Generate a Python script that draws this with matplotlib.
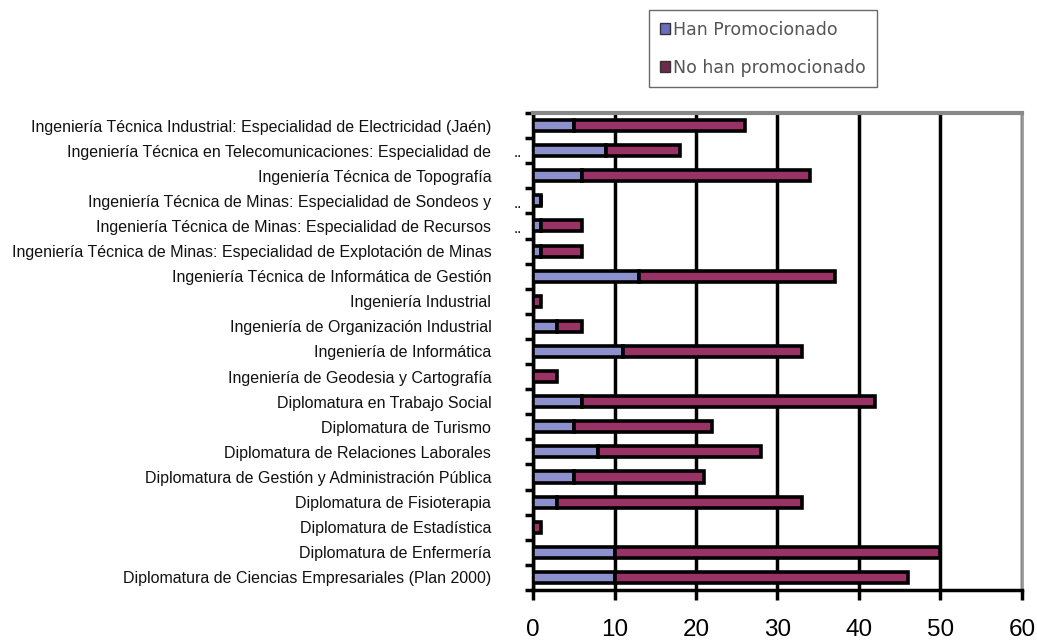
import matplotlib
matplotlib.use("Agg")
import matplotlib.pyplot as plt
from matplotlib.patches import Patch

plt.rcParams["font.family"] = ["Liberation Sans", "DejaVu Sans"]

# categories listed top to bottom as in the chart
carreras = [
    "Ingeniería Técnica Industrial: Especialidad de Electricidad (Jaén)",
    "Ingeniería Técnica en Telecomunicaciones: Especialidad de",
    "Ingeniería Técnica de Topografía",
    "Ingeniería Técnica de Minas: Especialidad de Sondeos y",
    "Ingeniería Técnica de Minas: Especialidad de Recursos",
    "Ingeniería Técnica de Minas: Especialidad de Explotación de Minas",
    "Ingeniería Técnica de Informática de Gestión",
    "Ingeniería Industrial",
    "Ingeniería de Organización Industrial",
    "Ingeniería de Informática",
    "Ingeniería de Geodesia y Cartografía",
    "Diplomatura en Trabajo Social",
    "Diplomatura de Turismo",
    "Diplomatura de Relaciones Laborales",
    "Diplomatura de Gestión y Administración Pública",
    "Diplomatura de Fisioterapia",
    "Diplomatura de Estadística",
    "Diplomatura de Enfermería",
    "Diplomatura de Ciencias Empresariales (Plan 2000)",
]
truncada = [False, True, False, True, True, False, False, False, False, False,
            False, False, False, False, False, False, False, False, False]
han_promocionado = [5, 9, 6, 1, 1, 1, 13, 0, 3, 11, 0, 6, 5, 8, 5, 3, 0, 10, 10]
total = [26, 18, 34, 1, 6, 6, 37, 1, 6, 33, 3, 42, 22, 28, 21, 33, 1, 50, 46]
no_han_promocionado = [t - h for t, h in zip(total, han_promocionado)]

azul = "#8c90cc"
granate = "#993366"

fig = plt.figure(figsize=(10.37, 6.42), dpi=100)
ax = fig.add_axes([0.514, 0.081, 0.4715, 0.743])

n = len(carreras)
ypos = list(range(n))
ax.barh(ypos, han_promocionado, height=0.44, color=azul,
        edgecolor="black", linewidth=2.6, zorder=3)
ax.barh(ypos, no_han_promocionado, left=han_promocionado, height=0.44,
        color=granate, edgecolor="black", linewidth=2.6, zorder=3)

ax.set_ylim(n - 0.5, -0.5)
ax.set_xlim(0, 60)

# x axis
ax.set_xticks(range(0, 61, 10))
ax.tick_params(axis="x", length=7, width=2.5, labelsize=17.5, pad=14,
               direction="out")
ax.grid(axis="x", color="black", linewidth=2.5, zorder=1)
ax.set_axisbelow(True)

# y axis: ticks at category boundaries, labels centred on bars
ax.set_yticks([i - 0.5 for i in range(n + 1)])
ax.set_yticklabels([])
ax.set_yticks(ypos, minor=True)
ax.set_yticklabels(carreras, minor=True, fontsize=11.5, color="#111111")
ax.tick_params(axis="y", which="major", length=6, width=2.5, direction="out")
ax.tick_params(axis="y", which="minor", length=0, pad=30)

for i, t in enumerate(truncada):
    if t:
        ax.annotate("..", xy=(0, i), xycoords=("axes fraction", "data"),
                    xytext=(-8, -2), textcoords="offset points",
                    ha="right", va="center", fontsize=11)

for s in ("left", "bottom"):
    ax.spines[s].set_color("black")
    ax.spines[s].set_linewidth(2.5)
ax.spines["top"].set_color("#888888")
ax.spines["top"].set_linewidth(3)
ax.spines["right"].set_color("#999999")
ax.spines["right"].set_linewidth(2)

handles = [Patch(facecolor="#6b6bc0", edgecolor="#333333", linewidth=1),
           Patch(facecolor="#6e2a4a", edgecolor="#333333", linewidth=1)]
leg = fig.legend(handles, ["Han Promocionado", "No han promocionado"],
                 loc="upper left", bbox_to_anchor=(0.626, 0.984),
                 prop={"family": "DejaVu Sans", "size": 12.5},
                 frameon=True, fancybox=False,
                 handlelength=0.6, handleheight=0.6, handletextpad=0.2,
                 labelspacing=1.15, borderpad=0.6, borderaxespad=0)
leg.get_frame().set_edgecolor("#444444")
leg.get_frame().set_linewidth(1)
for txt in leg.get_texts():
    txt.set_color("#555555")

fig.savefig("out.png", dpi=100)
